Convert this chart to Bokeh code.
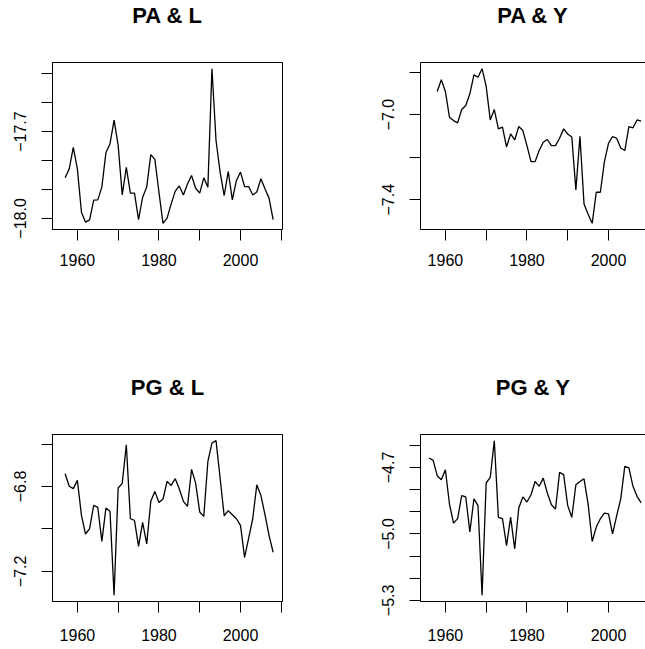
from bokeh.plotting import figure
from bokeh.layouts import column, row
from bokeh.models import FixedTicker, LinearAxis, Range1d, CustomJSTickFormatter
from bokeh.embed import file_html
from bokeh.resources import INLINE

# ---------------- data ----------------
years_pa_l = list(range(1957, 2009))
pa_l = [-17.860, -17.829, -17.755, -17.829, -17.979, -18.013, -18.005, -17.937, -17.936, -17.892,
        -17.773, -17.742, -17.661, -17.748, -17.919, -17.824, -17.913, -17.913, -18.004, -17.927,
        -17.892, -17.780, -17.796, -17.909, -18.017, -17.999, -17.950, -17.906, -17.888, -17.919,
        -17.881, -17.852, -17.896, -17.913, -17.860, -17.892, -17.483, -17.731, -17.840, -17.921,
        -17.838, -17.936, -17.869, -17.840, -17.890, -17.890, -17.919, -17.909, -17.863, -17.898,
        -17.930, -18.004]

years_pa_y = list(range(1958, 2009))
pa_y = [-6.891, -6.836, -6.891, -7.012, -7.028, -7.039, -6.976, -6.957, -6.902, -6.813,
        -6.824, -6.784, -6.866, -7.025, -6.976, -7.067, -7.059, -7.152, -7.091, -7.119,
        -7.056, -7.075, -7.146, -7.221, -7.221, -7.169, -7.130, -7.117, -7.146, -7.146,
        -7.111, -7.067, -7.091, -7.105, -7.354, -7.102, -7.420, -7.468, -7.511, -7.365,
        -7.365, -7.221, -7.135, -7.103, -7.111, -7.157, -7.169, -7.056, -7.062, -7.025,
        -7.031]

years_pg_l = list(range(1957, 2009))
pg_l = [-6.740, -6.799, -6.810, -6.771, -6.936, -7.024, -6.999, -6.889, -6.898, -7.059,
        -6.902, -6.917, -7.313, -6.807, -6.785, -6.603, -6.952, -6.960, -7.082, -6.969,
        -7.071, -6.870, -6.823, -6.875, -6.859, -6.776, -6.795, -6.763, -6.812, -6.870,
        -6.894, -6.719, -6.784, -6.920, -6.941, -6.682, -6.595, -6.584, -6.760, -6.938,
        -6.914, -6.933, -6.952, -6.983, -7.134, -7.043, -6.952, -6.792, -6.842, -6.933,
        -7.030, -7.110]

years_pg_y = list(range(1956, 2009))
pg_y = [-4.657, -4.668, -4.737, -4.755, -4.710, -4.865, -4.951, -4.931, -4.827, -4.833,
        -4.991, -4.842, -4.872, -5.277, -4.770, -4.745, -4.579, -4.925, -4.931, -5.053,
        -4.924, -5.067, -4.883, -4.833, -4.856, -4.823, -4.763, -4.785, -4.748, -4.815,
        -4.868, -4.888, -4.722, -4.732, -4.872, -4.925, -4.778, -4.763, -4.751, -4.865,
        -5.034, -4.969, -4.931, -4.906, -4.909, -5.000, -4.918, -4.842, -4.695, -4.702,
        -4.785, -4.830, -4.860]

x_major = [1960, 1980, 2000]
x_minor = [1970, 1990, 2010]

pa_l_major = [-18.0, -17.7]
pa_l_minor = [-17.9, -17.8, -17.6, -17.5]
pa_y_major = [-7.4, -7.0]
pa_y_minor = [-7.2, -6.8]
pg_l_major = [-7.2, -6.8]
pg_l_minor = [-7.0, -6.6]
pg_y_major = [-5.3, -5.0, -4.7]
pg_y_minor = [-5.2, -5.1, -4.9, -4.8, -4.6]

titles = ["PA & L", "PA & Y", "PG & L", "PG & Y"]

FONT = "Liberation Sans"
X_START = 1953.9
PX_PER_YEAR = 230 / 56.4

Y_FORMAT = CustomJSTickFormatter(code='return tick.toFixed(1).replace("-", "\u2212");')


def style_axis(ax, major, minor, standoff, vertical=False):
    ax.ticker = FixedTicker(ticks=major, minor_ticks=minor)
    ax.axis_line_color = "black"
    ax.axis_line_width = 1
    ax.major_tick_line_color = "black"
    ax.minor_tick_line_color = "black"
    ax.major_tick_in = 0
    ax.minor_tick_in = 0
    ax.major_tick_out = 11
    ax.minor_tick_out = 11
    ax.major_label_text_font = FONT
    ax.major_label_text_font_size = "16px"
    ax.major_label_text_color = "black"
    ax.major_label_standoff = standoff
    if vertical:
        ax.major_label_orientation = "vertical"
        ax.formatter = Y_FORMAT


def panel(title, xs, ys, ymajor, yminor, left, top):
    frame_w = 230 if left else 225
    width = 330 if left else 315
    ml = 52 if left else 90
    mr = 48 if left else 0
    if top:
        height, mt, mb = 330, 62, 101
    else:
        height, mt, mb = 319, 104, 48
    lo, hi = min(ys), max(ys)
    pad = 0.04 * (hi - lo)
    p = figure(width=width, height=height,
               min_border_left=ml, min_border_right=mr,
               min_border_top=mt, min_border_bottom=mb,
               x_range=Range1d(X_START, X_START + frame_w / PX_PER_YEAR),
               y_range=Range1d(lo - pad, hi + pad),
               output_backend="svg", toolbar_location=None, title=title)
    p.xgrid.grid_line_color = None
    p.ygrid.grid_line_color = None
    p.background_fill_color = "white"
    p.border_fill_color = "white"
    p.title.text_font = FONT
    p.title.text_font_size = "22px"
    p.title.text_font_style = "bold"
    p.title.text_color = "black"
    p.title.align = "center"
    p.title.standoff = 0
    style_axis(p.xaxis[0], x_major, x_minor, 13 if top else 16)
    style_axis(p.yaxis[0], ymajor, yminor, 15, vertical=True)
    if left:
        p.outline_line_color = "black"
        p.outline_line_width = 1
        p.outline_line_alpha = 1
    else:
        p.outline_line_color = None
    # top border line; its (blank) label keeps the title clear of the frame
    top_ax = LinearAxis(ticker=FixedTicker(ticks=[]),
                        major_tick_out=0, major_tick_in=0,
                        minor_tick_out=0, minor_tick_in=0,
                        major_label_standoff=0,
                        major_tick_line_color=None, minor_tick_line_color=None,
                        axis_label=" ", axis_label_standoff=15,
                        axis_label_text_font=FONT,
                        axis_label_text_font_size="16px",
                        axis_line_color="black", axis_line_width=1)
    p.add_layout(top_ax, "above")
    p.line(xs, ys, line_color="black", line_width=1.3)
    return p


p1 = panel(titles[0], years_pa_l, pa_l, pa_l_major, pa_l_minor, True, True)
p2 = panel(titles[1], years_pa_y, pa_y, pa_y_major, pa_y_minor, False, True)
p3 = panel(titles[2], years_pg_l, pg_l, pg_l_major, pg_l_minor, True, False)
p4 = panel(titles[3], years_pg_y, pg_y, pg_y_major, pg_y_minor, False, False)

layout = column(row(p1, p2), row(p3, p4))

open("out.html", "w").write(file_html(layout, INLINE))
